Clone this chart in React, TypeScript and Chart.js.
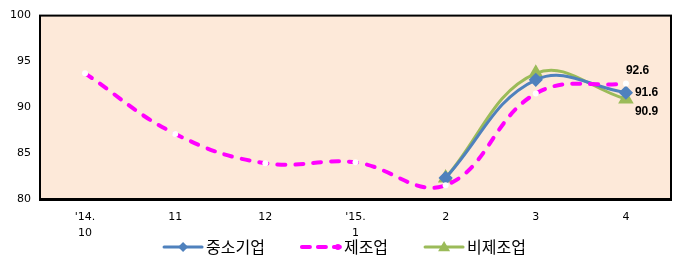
import React, { useEffect, useRef } from "react";
import { Chart, registerables } from "chart.js";

Chart.register(...registerables);

const categories: (string | string[])[] = [["'14.", "10"], "11", "12", ["'15.", "1"], "2", "3", "4"];
const smeValues: (number | null)[] = [null, null, null, null, 82.3, 93.0, 91.6];
const mfgValues: (number | null)[] = [93.7, 87.1, 83.9, 84.0, 81.5, 91.5, 92.6];
const nonMfgValues: (number | null)[] = [null, null, null, null, 82.3, 93.7, 90.9];
const seriesNames = ["중소기업", "제조업", "비제조업"];
const yTicks = [80, 85, 90, 95, 100];

const BLUE = "#4F81BD";
const MAGENTA = "#FF00FF";
const GREEN = "#9BBB59";
const PEACH = "#FDE9D9";

const labelOffsets = [
  { dx: 9, dy: 0 },
  { dx: 0, dy: -13 },
  { dx: 9, dy: 13 },
];

function drawMarker(ctx: CanvasRenderingContext2D, style: string, cx: number, cy: number, r: number) {
  ctx.beginPath();
  if (style === "rectRot") {
    ctx.moveTo(cx, cy - r);
    ctx.lineTo(cx + r, cy);
    ctx.lineTo(cx, cy + r);
    ctx.lineTo(cx - r, cy);
  } else if (style === "triangle") {
    ctx.moveTo(cx, cy - r);
    ctx.lineTo(cx + r, cy + r * 0.7);
    ctx.lineTo(cx - r, cy + r * 0.7);
  } else {
    ctx.arc(cx, cy, r, 0, Math.PI * 2);
  }
  ctx.closePath();
  ctx.fill();
}

const framePlugin = {
  id: "frame",
  beforeDraw(chart: any) {
    const { ctx, chartArea: a } = chart;
    ctx.save();
    ctx.fillStyle = PEACH;
    ctx.fillRect(a.left, a.top, a.right - a.left, a.bottom - a.top);
    ctx.restore();
  },
  afterDraw(chart: any) {
    const { ctx, chartArea: a } = chart;
    ctx.save();
    ctx.strokeStyle = "#000";
    ctx.lineWidth = 2;
    ctx.strokeRect(a.left, a.top, a.right - a.left, a.bottom - a.top);
    ctx.fillStyle = "#000";
    ctx.fillRect(a.left - 1, a.bottom - 1, a.right - a.left + 2, 3);
    ctx.restore();

    // custom legend (line sample + marker + text)
    const sampleW = 42;
    const textGap = 2;
    const itemGap = 35;
    const cy = 247;
    ctx.save();
    ctx.font = "16px 'Noto Sans CJK KR', sans-serif";
    const datasets = chart.data.datasets;
    const widths = datasets.map((ds: any) => sampleW + textGap + ctx.measureText(ds.label).width);
    const total = widths.reduce((s: number, w: number) => s + w, 0) + itemGap * (datasets.length - 1);
    let x = chart.width / 2 - 6 - total / 2;
    datasets.forEach((ds: any, i: number) => {
      ctx.save();
      ctx.strokeStyle = ds.borderColor;
      ctx.lineWidth = ds.borderWidth;
      ctx.lineCap = "round";
      ctx.setLineDash(ds.borderDash ? [8, 8] : []);
      ctx.beginPath();
      ctx.moveTo(x + 2, cy);
      ctx.lineTo(x + sampleW - 2, cy);
      ctx.stroke();
      ctx.setLineDash([]);
      ctx.fillStyle = ds.legendMarkerColor;
      const mx = ds.pointStyle === "circle" ? x + sampleW - 4 : x + sampleW / 2;
      drawMarker(ctx, ds.pointStyle, mx, cy, ds.legendMarkerRadius);
      ctx.restore();
      ctx.fillStyle = "#000";
      ctx.textAlign = "left";
      ctx.textBaseline = "middle";
      ctx.fillText(ds.label, x + sampleW + textGap, cy);
      x += widths[i] + itemGap;
    });
    ctx.restore();
  },
};

const valueLabelPlugin = {
  id: "valueLabels",
  afterDatasetsDraw(chart: any) {
    const { ctx } = chart;
    chart.data.datasets.forEach((ds: any, i: number) => {
      const meta = chart.getDatasetMeta(i);
      const last = ds.data.length - 1;
      const el = meta.data[last];
      const v = ds.data[last];
      if (!el || v == null) return;
      const o = labelOffsets[i];
      ctx.save();
      ctx.font = "bold 12px 'Liberation Sans', Arial, sans-serif";
      ctx.fillStyle = "#000";
      ctx.textAlign = "left";
      ctx.textBaseline = "middle";
      ctx.fillText(v.toFixed(1), el.x + o.dx, el.y + o.dy);
      ctx.restore();
    });
  },
};

export default function App() {
  const ref = useRef<HTMLCanvasElement>(null);

  useEffect(() => {
    if (!ref.current) return;
    const chart = new Chart(ref.current, {
      type: "line",
      data: {
        labels: categories,
        datasets: [
          {
            label: seriesNames[0],
            data: smeValues,
            borderColor: BLUE,
            backgroundColor: BLUE,
            borderWidth: 3,
            tension: 0.4,
            pointStyle: "rectRot",
            pointRadius: 5,
            pointBackgroundColor: BLUE,
            pointBorderColor: BLUE,
            legendMarkerRadius: 5,
            legendMarkerColor: BLUE,
            order: 2,
          } as any,
          {
            label: seriesNames[1],
            data: mfgValues,
            borderColor: MAGENTA,
            backgroundColor: MAGENTA,
            borderWidth: 4,
            borderDash: [8, 10],
            borderCapStyle: "round",
            tension: 0.4,
            pointStyle: "circle",
            pointRadius: 3,
            pointBackgroundColor: "#FFFFFF",
            pointBorderColor: "#FFFFFF",
            pointBorderWidth: 0,
            legendMarkerRadius: 3,
            legendMarkerColor: MAGENTA,
            order: 1,
          } as any,
          {
            label: seriesNames[2],
            data: nonMfgValues,
            borderColor: GREEN,
            backgroundColor: GREEN,
            borderWidth: 3,
            tension: 0.4,
            pointStyle: "triangle",
            pointRadius: 6,
            pointBackgroundColor: GREEN,
            pointBorderColor: GREEN,
            legendMarkerRadius: 6,
            legendMarkerColor: GREEN,
            order: 3,
          } as any,
        ],
      },
      options: {
        responsive: false,
        animation: false,
        devicePixelRatio: 1,
        layout: { padding: { top: 13, right: 29, left: 0, bottom: 39 } },
        plugins: {
          tooltip: { enabled: false },
          legend: { display: false },
        },
        scales: {
          x: {
            type: "category",
            offset: true,
            grid: { display: false, drawTicks: false },
            border: { display: false },
            ticks: {
              autoSkip: false,
              maxRotation: 0,
              padding: 10,
              color: "#000",
              font: { size: 11, family: "'DejaVu Sans', sans-serif", lineHeight: 1.45 },
            },
            afterFit(s: any) {
              s.height = 38;
            },
          },
          y: {
            min: 80,
            max: 100,
            grid: { display: false, drawTicks: false },
            border: { display: false },
            afterBuildTicks(s: any) {
              s.ticks = yTicks.map((v) => ({ value: v }));
            },
            ticks: {
              padding: 9,
              color: "#000",
              font: { size: 11, family: "'DejaVu Sans', sans-serif" },
            },
            afterFit(s: any) {
              s.width = 40;
            },
          },
        },
      } as any,
      plugins: [framePlugin, valueLabelPlugin],
    });
    return () => chart.destroy();
  }, []);

  return (
    <div style={{ position: "fixed", left: 0, top: 0, width: 700, height: 276, background: "#fff" }}>
      <canvas ref={ref} width={700} height={276} />
    </div>
  );
}
